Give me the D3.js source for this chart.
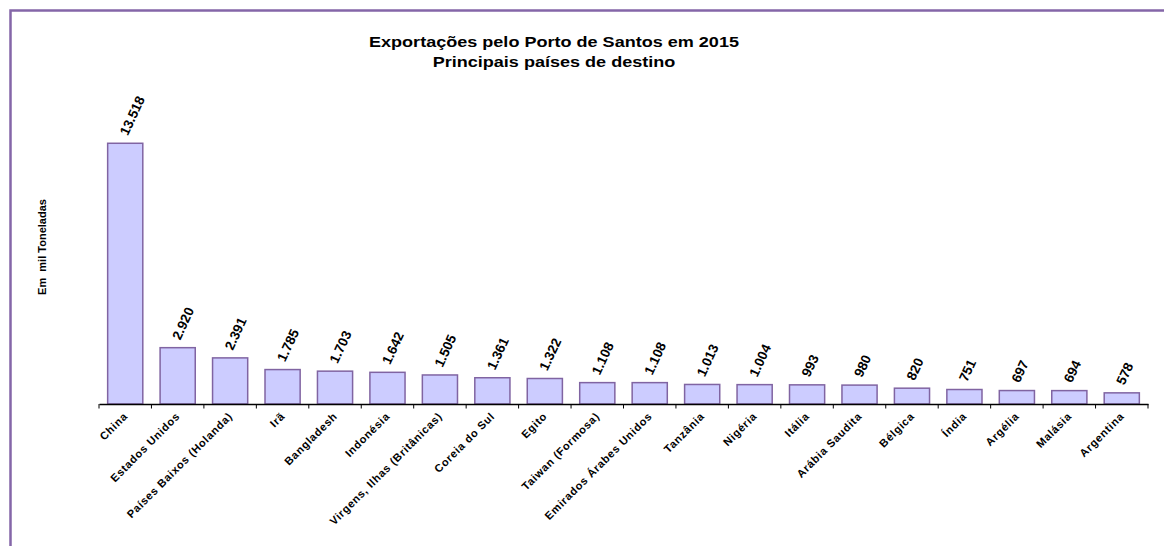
<!DOCTYPE html>
<html><head><meta charset="utf-8">
<script src="https://cdn.jsdelivr.net/npm/d3@7"></script>
<style>body{margin:0;background:#fff}svg{display:block}text{font-family:"Liberation Sans",Arial,sans-serif;font-weight:bold;fill:#000}</style>
</head><body>
<svg id="c" width="1164" height="546"></svg>
<script>
const categories = ["China","Estados Unidos","Países Baixos (Holanda)","Irã","Bangladesh","Indonésia","Virgens, Ilhas (Britânicas)","Coreia do Sul","Egito","Taiwan (Formosa)","Emirados Árabes Unidos","Tanzânia","Nigéria","Itália","Arábia Saudita","Bélgica","Índia","Argélia","Malásia","Argentina"];
const values = [13518,2920,2391,1785,1703,1642,1505,1361,1322,1108,1108,1013,1004,993,980,820,751,697,694,578];
const valueLabels = ["13.518","2.920","2.391","1.785","1.703","1.642","1.505","1.361","1.322","1.108","1.108","1.013","1.004","993","980","820","751","697","694","578"];
const titleLines = ["Exportações pelo Porto de Santos em 2015","Principais países de destino"];
const yTitle = "Em  mil Toneladas";

const svg = d3.select("#c");
svg.append("rect").attr("x",10.5).attr("y",10.5).attr("width",1170).attr("height",560)
  .attr("fill","none").attr("stroke","#8466a8").attr("stroke-width",2.5);

const x = d3.scaleBand().domain(categories).range([99,1148]).paddingInner(0.33).paddingOuter(0.165);
const y = d3.scaleLinear().domain([0,16000]).range([404,95.4]);

svg.selectAll("rect.bar").data(values).join("rect").attr("class","bar")
  .attr("x",(d,i)=>x(categories[i])).attr("width",x.bandwidth())
  .attr("y",d=>y(d)).attr("height",d=>y(0)-y(d))
  .attr("fill","#ccccff").attr("stroke","#8064a2").attr("stroke-width",1.5);

const xAxis = svg.append("g").attr("transform","translate(0,404)")
  .call(d3.axisBottom(x).tickSize(0).tickFormat(""));
xAxis.select(".domain").attr("stroke","#000").attr("stroke-width",1.3);
const bounds = d3.range(categories.length+1).map(i=>x.range()[0]+i*x.step()-(x.step()*x.paddingOuter()-x.step()*x.paddingInner()/2));
svg.append("g").selectAll("line").data(bounds).join("line")
  .attr("x1",d=>d).attr("x2",d=>d).attr("y1",404).attr("y2",408.5).attr("stroke","#000").attr("stroke-width",1);

svg.append("g").selectAll("text").data(categories).join("text")
  .attr("transform",d=>`translate(${x(d)+x.bandwidth()/2+3},${417}) rotate(-45)`)
  .attr("text-anchor","end").attr("font-size","11px").attr("letter-spacing","0.7px").text(d=>d);

svg.append("g").selectAll("text").data(values).join("text")
  .attr("transform",(d,i)=>`translate(${x(categories[i])+x.bandwidth()/2+2.5},${y(d)-7}) rotate(-65)`)
  .attr("text-anchor","start").attr("font-size","13.5px").text((d,i)=>valueLabels[i]);

svg.append("g").selectAll("text").data(titleLines).join("text")
  .attr("transform",(d,i)=>`translate(554,${47+i*20}) scale(1.29,1)`)
  .attr("text-anchor","middle").attr("font-size","14px").text(d=>d);

svg.append("text").attr("transform","translate(46,247) rotate(-90)").attr("text-anchor","middle")
  .attr("font-size","11px").attr("xml:space","preserve").text(yTitle);
</script>
</body></html>
